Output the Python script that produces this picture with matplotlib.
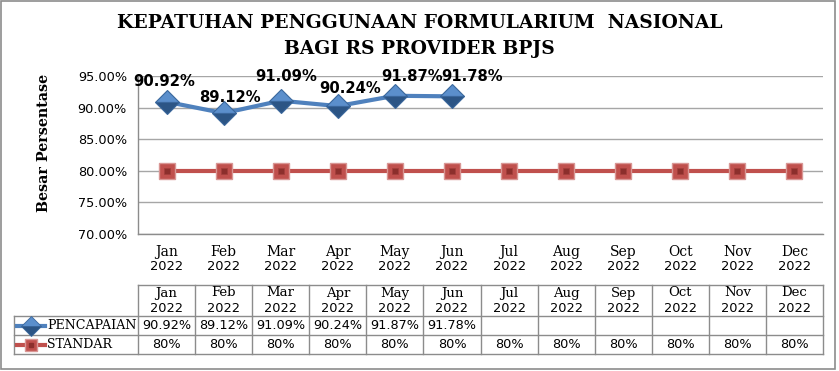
import matplotlib
matplotlib.use("Agg")
import matplotlib.pyplot as plt

months = ["Jan", "Feb", "Mar", "Apr", "May", "Jun", "Jul", "Aug", "Sep", "Oct", "Nov", "Dec"]
year = "2022"
pencapaian = [90.92, 89.12, 91.09, 90.24, 91.87, 91.78]
standar = [80, 80, 80, 80, 80, 80, 80, 80, 80, 80, 80, 80]
yticks = [70, 75, 80, 85, 90, 95]
title = "KEPATUHAN PENGGUNAAN FORMULARIUM  NASIONAL\nBAGI RS PROVIDER BPJS"
ylabel = "Besar Persentase"
series_names = ["PENCAPAIAN", "STANDAR"]

# label offsets in pixels (dx, dy), as excel placed them
label_off = [(-2, 20), (6, 16), (5, 24), (12, 18), (17, 19), (20, 20)]

BLUE = "#4F81BD"
BLUE_DARK = "#2C5585"
RED = "#C0504D"
RED_DARK = "#8C2F2C"
GRID = "#A6A6A6"
SERIF = "DejaVu Serif"
SANS = "DejaVu Sans"

W, H = 839, 371
fig = plt.figure(figsize=(W / 100, H / 100), dpi=100)

def fx(px):
    return px / W

def fy(py):
    return 1 - py / H

# main plot area
L, R, T, B = 138, 823, 76, 234
ax = fig.add_axes([fx(L), fy(B), fx(R - L), (B - T) / H])
x = list(range(len(months)))
ax.set_xlim(-0.5, len(months) - 0.5)
ax.set_ylim(70, 95)
ax.set_yticks(yticks)
ax.set_yticklabels([f"{v:.2f}%" for v in yticks], fontsize=9.3, family=SANS)
ax.tick_params(axis="y", length=0, pad=8)
ax.set_xticks([])
ax.grid(axis="y", color=GRID, lw=1)
ax.set_axisbelow(True)
for s in ["top", "right"]:
    ax.spines[s].set_visible(False)
for s in ["left", "bottom"]:
    ax.spines[s].set_color("#8C8C8C")
    ax.spines[s].set_linewidth(1)

# lines
ax.plot(x, standar, color=RED, lw=3, zorder=3)
ax.plot(x, standar, ls="none", marker="s", ms=11.5, mfc=RED, mec="#D99694", mew=1, zorder=4)
ax.plot(x, standar, ls="none", marker="s", ms=4, mfc=RED_DARK, mec="#A33E3B", mew=0.5, zorder=5)
xp = x[:len(pencapaian)]
ax.plot(xp, pencapaian, color=BLUE, lw=3, zorder=3)
ax.plot(xp, pencapaian, ls="none", marker="D", ms=12.5, fillstyle="top", mfc="#5B8FCC",
        markerfacecoloralt=BLUE_DARK, mec="#3A679C", mew=0.8, zorder=4)

for xi, v, (dx, dy) in zip(xp, pencapaian, label_off):
    ax.annotate(f"{v:.2f}%", (xi, v), xytext=(dx * 0.72, dy * 0.72), textcoords="offset points",
                ha="center", va="center", fontsize=10.6, fontweight="bold", family=SANS, zorder=6)

# category labels under the axis
for xi, m in zip(x, months):
    ax.annotate(m, (xi, 0), xycoords=("data", "axes fraction"), xytext=(0, -18 * 0.72),
                textcoords="offset points", ha="center", va="center", fontsize=10, family=SERIF)
    ax.annotate(year, (xi, 0), xycoords=("data", "axes fraction"), xytext=(0, -33 * 0.72),
                textcoords="offset points", ha="center", va="center", fontsize=9.4, family=SANS)

# title and axis title
line1, line2 = title.split("\n")
fig.text(0.5, fy(23), line1, ha="center", va="center", fontsize=13.5, fontweight="bold", family=SERIF)
fig.text(0.5, fy(49), line2, ha="center", va="center", fontsize=13.5, fontweight="bold", family=SERIF)
fig.text(fx(44), fy(143), ylabel, rotation=90, ha="center", va="center", fontsize=10.3,
         fontweight="bold", family=SERIF)

# data table
TL, TT, TB = 14, 285, 354
rows = [285, 316, 335, 354]
unit = (R - L) / len(months)
lc = -0.5 - (L - TL) / unit
tax = fig.add_axes([fx(TL), fy(TB), fx(R - TL), (TB - TT) / H])
tax.set_xlim(lc, len(months) - 0.5)
tax.set_ylim(TB, TT)
tax.axis("off")
bc = "#8C8C8C"
tax.plot([-0.5, len(months) - 0.5], [rows[0]] * 2, color=bc, lw=1, clip_on=False)
for r in rows[1:]:
    tax.plot([lc, len(months) - 0.5], [r] * 2, color=bc, lw=1, clip_on=False)
for i in range(len(months) + 1):
    tax.plot([i - 0.5] * 2, [rows[0], rows[-1]], color=bc, lw=1, clip_on=False)
tax.plot([lc] * 2, [rows[1], rows[-1]], color=bc, lw=1, clip_on=False)

for xi, m in zip(x, months):
    tax.text(xi, 293, m, ha="center", va="center", fontsize=9.5, family=SERIF)
    tax.text(xi, 308, year, ha="center", va="center", fontsize=9.3, family=SANS)
for xi, v in zip(xp, pencapaian):
    tax.text(xi, 325.5, f"{v:.2f}%", ha="center", va="center", fontsize=9.3, family=SANS)
for xi, v in zip(x, standar):
    tax.text(xi, 344.5, f"{v}%", ha="center", va="center", fontsize=9.3, family=SANS)

# legend keys in the row header cells
k0, k1, kc = lc + 3 / unit, lc + 31 / unit, lc + 17 / unit
tax.plot([k0, k1], [325.5] * 2, color=BLUE, lw=3)
tax.plot([kc], [325.5], marker="D", ms=10, fillstyle="top", mfc="#5B8FCC",
         markerfacecoloralt=BLUE_DARK, mec="#3A679C", mew=0.6, ls="none")
tax.plot([k0, k1], [344.5] * 2, color=RED, lw=3)
tax.plot([kc], [344.5], marker="s", ms=8, mfc=RED, mec="#D99694", ls="none")
tax.plot([kc], [344.5], marker="s", ms=2.5, mfc=RED_DARK, mec=RED_DARK, ls="none")
tax.text(lc + 33 / unit, 325.5, series_names[0], ha="left", va="center", fontsize=9.1, family=SERIF)
tax.text(lc + 33 / unit, 344.5, series_names[1], ha="left", va="center", fontsize=9.1, family=SERIF)

# outer chart border
fig.patches.append(plt.Rectangle((fx(1), fy(369)), fx(834), 368 / H, transform=fig.transFigure,
                                 fill=False, ec="#8C8C8C", lw=1.2))

fig.savefig("out.png", dpi=100)
